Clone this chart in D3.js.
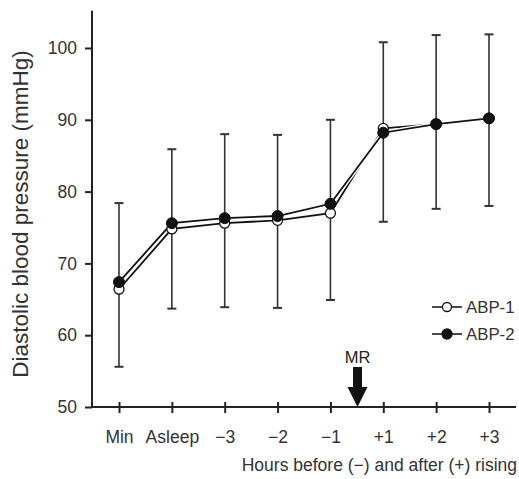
<!DOCTYPE html>
<html><head><meta charset="utf-8">
<script src="https://cdn.jsdelivr.net/npm/d3@7"></script>
<style>body{margin:0;background:#fff}svg{display:block;font-family:"Liberation Sans",Arial,sans-serif}</style>
</head><body><svg id="c" width="519" height="479"></svg>
<script>
const categories = ["Min","Asleep","\u22123","\u22122","\u22121","+1","+2","+3"];
const abp1 = [66.4, 74.8, 75.6, 76.0, 77.0, 88.8, 89.4, 90.2];
const abp2 = [67.4, 75.6, 76.3, 76.6, 78.3, 88.2, 89.4, 90.2];
const errHigh = [78.4, 85.9, 88.0, 87.9, 90.0, 100.8, 101.8, 101.9];
const errLow = [55.6, 63.7, 63.9, 63.8, 64.9, 75.8, 77.6, 78.0];
const yTicks = [50, 60, 70, 80, 90, 100];
const seriesNames = ["ABP-1", "ABP-2"];

const FONT = "Liberation Sans, Arial, sans-serif";
const svg = d3.select("#c");
const x0 = 92, x1 = 516;
const x = d3.scalePoint().domain(categories).range([119, 489]);
const y = d3.scaleLinear().domain([50, 100]).range([407, 48]);

// y axis
const ya = svg.append("g").attr("transform", `translate(${x0},0)`)
  .call(d3.axisLeft(y).tickValues(yTicks).tickSize(7).tickPadding(8).tickFormat(d3.format("d")));
ya.select(".domain").remove();
ya.selectAll(".tick line").attr("stroke", "#222").attr("stroke-width", 2);
ya.selectAll(".tick text").attr("font-size", 17.5).attr("fill", "#333").attr("font-family", FONT);
svg.append("line").attr("x1", x0).attr("x2", x0).attr("y1", y(105.2)).attr("y2", y(50) + 1)
  .attr("stroke", "#222").attr("stroke-width", 2);

// x axis
const xa = svg.append("g").attr("transform", `translate(0,${y(50)})`)
  .call(d3.axisBottom(x).tickSize(6));
xa.select(".domain").remove();
xa.selectAll(".tick line").attr("y1", -5).attr("y2", 6).attr("stroke", "#222").attr("stroke-width", 2);
xa.selectAll(".tick text").attr("font-size", 17.5).attr("fill", "#333").attr("font-family", FONT)
  .attr("y", 36).attr("dy", 0);
svg.append("line").attr("x1", x0 - 1).attr("x2", x1).attr("y1", y(50)).attr("y2", y(50))
  .attr("stroke", "#222").attr("stroke-width", 2);

// axis titles
svg.append("text").attr("transform", `translate(28,${214}) rotate(-90)`).attr("text-anchor", "middle")
  .attr("font-size", 22.5).attr("fill", "#333").text("Diastolic blood pressure (mmHg)");
svg.append("text").attr("x", 517).attr("y", 471).attr("text-anchor", "end")
  .attr("font-size", 17.5).attr("fill", "#333").text("Hours before (\u2212) and after (+) rising");

// error bars
const eb = svg.append("g").attr("stroke", "#333").attr("stroke-width", 1.6);
categories.forEach((c, i) => {
  eb.append("line").attr("x1", x(c)).attr("x2", x(c)).attr("y1", y(errHigh[i])).attr("y2", y(errLow[i]));
  [errHigh[i], errLow[i]].forEach(v => eb.append("line").attr("x1", x(c) - 4.5).attr("x2", x(c) + 4.5)
    .attr("y1", y(v)).attr("y2", y(v)).attr("stroke-width", 2));
});

// lines
const line = d3.line().x((d, i) => x(categories[i])).y(d => y(d));
[abp1, abp2].forEach(s => {
  svg.append("path").datum(s).attr("d", line).attr("fill", "none").attr("stroke", "#fff").attr("stroke-width", 4.5);
  svg.append("path").datum(s).attr("d", line).attr("fill", "none").attr("stroke", "#111").attr("stroke-width", 1.8);
});
// markers
svg.append("g").selectAll("circle").data(abp1).join("circle")
  .attr("cx", (d, i) => x(categories[i])).attr("cy", d => y(d)).attr("r", 5)
  .attr("fill", "#fff").attr("stroke", "#111").attr("stroke-width", 1.3);
svg.append("g").selectAll("circle").data(abp2).join("circle")
  .attr("cx", (d, i) => x(categories[i])).attr("cy", d => y(d)).attr("r", 5.5)
  .attr("fill", "#111").attr("stroke", "#111").attr("stroke-width", 1);

// legend
const lg = [{n: seriesNames[0], fill: "#fff", yy: 307}, {n: seriesNames[1], fill: "#111", yy: 334}];
lg.forEach(l => {
  svg.append("line").attr("x1", 432).attr("x2", 462).attr("y1", l.yy).attr("y2", l.yy).attr("stroke", "#111").attr("stroke-width", 1.5);
  svg.append("circle").attr("cx", 447).attr("cy", l.yy).attr("r", l.fill === "#fff" ? 4.5 : 5)
    .attr("fill", l.fill).attr("stroke", "#111").attr("stroke-width", 1.3);
  svg.append("text").attr("x", 466).attr("y", l.yy + 6).attr("font-size", 16.8).attr("fill", "#333").text(l.n);
});

// MR arrow
const mx = 357.5;
svg.append("text").attr("x", mx).attr("y", 363).attr("text-anchor", "middle").attr("font-size", 16.5).attr("fill", "#222").text("MR");
svg.append("path").attr("d", `M${mx-4.5},367 L${mx+4.5},367 L${mx+4.5},387 L${mx+10},387 L${mx},407 L${mx-10},387 L${mx-4.5},387 Z`)
  .attr("fill", "#111");
</script></body></html>
